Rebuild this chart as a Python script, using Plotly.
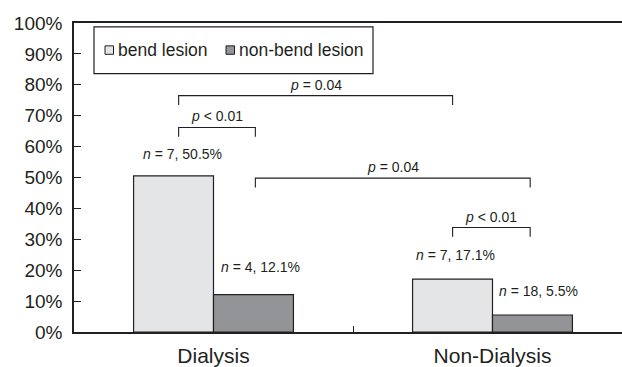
import plotly.graph_objects as go

categories = ["Dialysis", "Non-Dialysis"]
series_names = ["bend lesion", "non-bend lesion"]
bend_values = [50.5, 17.1]
nonbend_values = [12.1, 5.5]
bend_n = [7, 7]
nonbend_n = [4, 18]
y_ticks = [0, 10, 20, 30, 40, 50, 60, 70, 80, 90, 100]
comparisons = [  # (x0, x1, y, label)
    (-0.125, 0.857, 76.5, "<i>p</i> = 0.04"),
    (-0.125, 0.15, 66.2, "<i>p</i> < 0.01"),
    (0.15, 1.135, 49.8, "<i>p</i> = 0.04"),
    (0.857, 1.135, 33.8, "<i>p</i> < 0.01"),
]

FONT = "Liberation Sans, Arial, Helvetica, sans-serif"
INK = "#231f20"
c_bend = "#e4e5e7"
c_nonbend = "#929497"

fig = go.Figure()
fig.add_trace(go.Bar(x=categories, y=bend_values, name=series_names[0],
                     marker=dict(color=c_bend, line=dict(color=INK, width=1.2))))
fig.add_trace(go.Bar(x=categories, y=nonbend_values, name=series_names[1],
                     marker=dict(color=c_nonbend, line=dict(color=INK, width=1.2))))

W, H = 622, 367
ml, mr, mt, mb = 74, 0, 23, 33
fig.update_layout(
    width=W, height=H,
    margin=dict(l=ml, r=mr, t=mt, b=mb),
    paper_bgcolor="white", plot_bgcolor="white",
    barmode="group", bargap=0.427, bargroupgap=0,
    showlegend=False,
    font=dict(family=FONT, color=INK),
)
fig.update_xaxes(
    type="category", range=[-0.5, -0.5 + (W - ml - mr) / 279.0],
    showline=True, linecolor=INK, linewidth=1.5, mirror=True,
    ticks="inside", tickson="boundaries", ticklen=6, tickwidth=1.2, tickcolor=INK,
    tickfont=dict(size=21, family=FONT, color=INK),
    ticklabelstandoff=4,
    showgrid=False, zeroline=False,
)
fig.update_yaxes(
    range=[0, 100], tickvals=y_ticks, ticktext=[f"{v}%" for v in y_ticks],
    showline=True, linecolor=INK, linewidth=1.5,
    ticks="inside", ticklen=7, tickwidth=1.2, tickcolor=INK,
    tickfont=dict(size=19, family=FONT, color=INK),
    ticklabelstandoff=6,
    showgrid=False, zeroline=False,
)

shapes = []
annotations = []
leg = 3.0
for x0, x1, y, label in comparisons:
    shapes.append(dict(type="path", xref="x", yref="y",
                       path=f"M {x0},{y-leg} L {x0},{y} L {x1},{y} L {x1},{y-leg}",
                       line=dict(color=INK, width=1.1)))
    annotations.append(dict(x=(x0 + x1) / 2, y=y, xref="x", yref="y", text=label,
                            showarrow=False, yanchor="bottom", yshift=1,
                            font=dict(size=14, family=FONT, color=INK)))

off = 0.143
labels = [
    (0 - off, bend_values[0], f"<i>n</i> = {bend_n[0]}, {bend_values[0]}%", 9, 22),
    (0 + off, nonbend_values[0], f"<i>n</i> = {nonbend_n[0]}, {nonbend_values[0]}%", 7, 28),
    (1 - off, bend_values[1], f"<i>n</i> = {bend_n[1]}, {bend_values[1]}%", 3, 24),
    (1 + off, nonbend_values[1], f"<i>n</i> = {nonbend_n[1]}, {nonbend_values[1]}%", 6, 24),
]
for x, y, t, xs, ys in labels:
    annotations.append(dict(x=x, y=y, xref="x", yref="y", text=t, showarrow=False,
                            xanchor="center", yanchor="middle", xshift=xs, yshift=ys,
                            font=dict(size=14, family=FONT, color=INK)))

# legend box
pw, ph = W - ml - mr, H - mt - mb
def px(x):
    return (x - ml) / pw
def py(y):
    return (H - mb - y) / ph
shapes.append(dict(type="rect", xref="paper", yref="paper",
                   x0=px(94), x1=px(373), y0=py(74), y1=py(27),
                   line=dict(color=INK, width=1.2), fillcolor="white"))
for sx, tx, col, name in [(105, 116, c_bend, series_names[0]), (226, 237, c_nonbend, series_names[1])]:
    shapes.append(dict(type="rect", xref="paper", yref="paper",
                       x0=px(sx), x1=px(sx + 8.5), y0=py(54.5), y1=py(46),
                       line=dict(color=INK, width=1), fillcolor=col))
    annotations.append(dict(x=px(tx), y=py(50), xref="paper", yref="paper", text=name,
                            showarrow=False, xanchor="left", yanchor="middle",
                            font=dict(size=17.5, family=FONT, color=INK)))

fig.update_layout(shapes=shapes, annotations=annotations)
fig.write_html("out.html", config={"displayModeBar": False},
               post_script="document.body.style.margin='0';document.body.style.overflow='hidden';")
